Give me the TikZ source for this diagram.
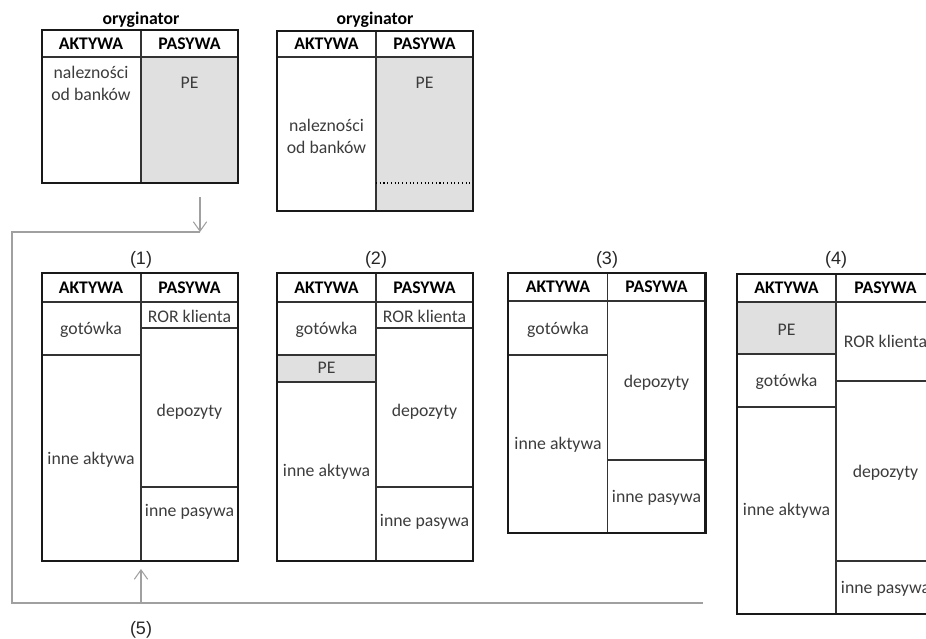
\documentclass[tikz,border=0pt]{standalone}
\usepackage{fontspec}
\setmainfont{Carlito}
\newfontfamily\arialf{Liberation Sans}
\usetikzlibrary{arrows.meta}
\definecolor{txtgray}{HTML}{3C3C3C}
\definecolor{lnkgray}{HTML}{A0A0A0}
\definecolor{pefill}{HTML}{E0E0E0}
\tikzset{
  sheetframe/.style={line width=1.6pt,black!90},
  cell/.style={line width=0.8pt,black!80},
  txt/.style={font=\fontsize{13.3}{16.5}\selectfont,text=txtgray,inner sep=0pt,align=center},
  head/.style={font=\fontsize{13.3}{16}\selectfont\bfseries,text=black,inner sep=0pt},
  num/.style={font=\arialf\fontsize{13.5}{15}\selectfont,text=black!85,inner sep=0pt},
  link/.style={line width=0.8pt,lnkgray},
  linkarr/.style={link,-{Straight Barb[length=7pt,width=10pt]}}
}
\begin{document}
\begin{tikzpicture}[x=0.75pt,y=-0.75pt]
\useasboundingbox (0,0) rectangle (926,639);
\clip (0,0) rectangle (926,639);
% oryginator, before
\path [fill=pefill] (141,57) rectangle (238,183);
\draw [cell] (42,57) -- (238,57) (141,30) -- (141,183);
\draw [sheetframe] (42,30) rectangle (238,183);
\node [head] (orgA) at (141,20) {oryginator};
\node [head] (orgAakt) at (91,44) {AKTYWA};
\node [head] (orgApas) at (189.5,44) {PASYWA};
\node [txt] (orgAnal) at (91,83) {nalezności\\od banków};
\node [txt] (orgApe) at (189.5,83) {PE};
% oryginator, after
\path [fill=pefill] (376,57) rectangle (473,211);
\draw [cell] (277,57) -- (473,57) (376,31) -- (376,211);
\draw [dotted, line width=0.8pt] (376,183) -- (473,183);
\draw [sheetframe] (277,31) rectangle (473,211);
\node [head] (orgB) at (375,20) {oryginator};
\node [head] (orgBakt) at (326.5,44) {AKTYWA};
\node [head] (orgBpas) at (424.5,44) {PASYWA};
\node [txt] (orgBnal) at (326.5,136) {nalezności\\od banków};
\node [txt] (orgBpe) at (424.5,83) {PE};
% bank (1)
\draw [cell] (42,302) -- (238,302) (141,273) -- (141,561) (42,355) -- (141,355)
  (141,328) -- (238,328) (141,487) -- (238,487);
\draw [sheetframe] (42,273) rectangle (238,561);
\node [num] (stA) at (141,260) {(1)};
\node [head] (stAakt) at (91,288) {AKTYWA};
\node [head] (stApas) at (189.5,288) {PASYWA};
\node [txt] (stAgot) at (91,330) {gotówka};
\node [txt] (stAinA) at (91,460) {inne aktywa};
\node [txt] (stAror) at (189.5,316) {ROR klienta};
\node [txt] (stAdep) at (189.5,412) {depozyty};
\node [txt] (stAinP) at (189.5,512) {inne pasywa};
% bank (2)
\path [fill=pefill] (277,355) rectangle (376,382);
\draw [cell] (277,302) -- (473,302) (376,273) -- (376,561) (277,355) -- (376,355)
  (277,382) -- (376,382) (376,328) -- (473,328) (376,487) -- (473,487);
\draw [sheetframe] (277,273) rectangle (473,561);
\node [num] (stB) at (376,260) {(2)};
\node [head] (stBakt) at (326.5,288) {AKTYWA};
\node [head] (stBpas) at (424.5,288) {PASYWA};
\node [txt] (stBgot) at (326.5,330) {gotówka};
\node [txt] (stBpe) at (326.5,368) {PE};
\node [txt] (stBinA) at (326.5,472) {inne aktywa};
\node [txt] (stBror) at (424.5,316) {ROR klienta};
\node [txt] (stBdep) at (424.5,412) {depozyty};
\node [txt] (stBinP) at (424.5,522) {inne pasywa};
% bank (3)
\draw [cell] (508,301) -- (705.5,301) (607.5,273) -- (607.5,533) (508,355) -- (607.5,355)
  (607.5,460) -- (705.5,460);
\draw [sheetframe] (508,273) rectangle (705.5,533);
\node [num] (stC) at (607,260) {(3)};
\node [head] (stCakt) at (558,287) {AKTYWA};
\node [head] (stCpas) at (656.5,287) {PASYWA};
\node [txt] (stCgot) at (558,330) {gotówka};
\node [txt] (stCinA) at (558,445) {inne aktywa};
\node [txt] (stCdep) at (656.5,383) {depozyty};
\node [txt] (stCinP) at (656.5,498) {inne pasywa};
% bank (4)
\path [fill=pefill] (737,302) rectangle (836,354);
\draw [cell] (737,302) -- (935,302) (836,274) -- (836,614) (737,354) -- (836,354)
  (737,407) -- (836,407) (836,381) -- (935,381) (836,561) -- (935,561);
\draw [sheetframe] (737,274) rectangle (935,614);
\node [num] (stD) at (836,260) {(4)};
\node [head] (stDakt) at (786.5,288) {AKTYWA};
\node [head] (stDpas) at (885.5,288) {PASYWA};
\node [txt] (stDpe) at (786.5,330) {PE};
\node [txt] (stDgot) at (786.5,382) {gotówka};
\node [txt] (stDinA) at (786.5,511) {inne aktywa};
\node [txt] (stDror) at (885.5,341) {ROR klienta};
\node [txt] (stDdep) at (885.5,473) {depozyty};
\node [txt] (stDinP) at (885.5,589) {inne pasywa};
% flow of the PE
\coordinate (dnA) at (200,197);
\coordinate (dnB) at (200,232);
\coordinate (lnA) at (12,232);
\coordinate (lnB) at (12,603);
\coordinate (lnC) at (703,603);
\coordinate (upA) at (141,603);
\coordinate (upB) at (141,569);
\draw [linkarr] (dnA) -- (dnB);
\draw [link] (dnB) -- (lnA) -- (lnB) -- (lnC);
\draw [linkarr] (upA) -- (upB);
\node [num] (stE) at (141,630) {(5)};
\end{tikzpicture}
\end{document}
